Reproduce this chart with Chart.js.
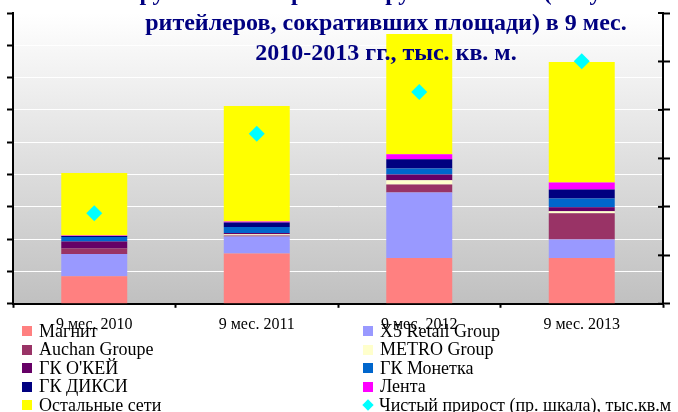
<!DOCTYPE html>
<html lang="ru">
<head>
    <meta charset="UTF-8">
    <title>Крупнейшие торговые группы России</title>
    <script src="https://cdn.jsdelivr.net/npm/chart.js"></script>
    <style>
        html, body { margin: 0; padding: 0; background: #fff; overflow: hidden; }
        #wrap { position: relative; width: 678px; height: 412px; overflow: hidden;
                font-family: "Liberation Serif", "Times New Roman", serif; }
        #chart { position: absolute; left: 0; top: 0; }
        #title { position: absolute; left: 86px; top: -23px; width: 600px; text-align: center;
                 font-weight: bold; font-size: 24px; line-height: 30px; color: #000080; white-space: nowrap; }
        #legend { position: absolute; left: 22px; top: 322px; width: 680px;
                  display: grid; grid-template-columns: 341px auto; grid-auto-rows: 18.5px;
                  font-size: 18px; color: #000; white-space: nowrap; }
        #legend .item { display: flex; align-items: center; }
        #legend .box { width: 10px; height: 10px; margin-right: 7px; flex: none; }
        #legend .diamond { width: 8px; height: 8px; margin: 0 7px 0 1px; transform: rotate(45deg); flex: none; }
    </style>
</head>
<body>
<div id="wrap">
    <canvas id="chart" width="678" height="412"></canvas>
    <div id="title">Крупнейшие торговые группы России (без учета<br>ритейлеров, сокративших площади) в 9 мес.<br>2010-2013 гг., тыс. кв. м.</div>
    <div id="legend"></div>
</div>

<script>
    // данные, тыс. кв. м (левая шкала)
    const categories = ['9 мес. 2010', '9 мес. 2011', '9 мес. 2012', '9 мес. 2013'];
    const magnit  = [171, 312, 284, 284];
    const x5      = [137, 104, 405, 114];
    const auchan  = [35, 6, 50, 163];
    const metro   = [0, 8, 25, 12];
    const okey    = [43, 8, 37, 25];
    const monetka = [27, 37, 37, 54];
    const dixy    = [6, 29, 56, 56];
    const lenta   = [4, 6, 31, 43];
    const others  = [387, 714, 745, 745];
    // чистый прирост (правая шкала)
    const netGrowth = [374, 702, 874, 1001];

    const leftMax = 1800, leftStep = 200;
    const rightMax = 1200, rightStep = 200;

    const serif = "'Liberation Serif', 'Times New Roman', serif";

    function bar(label, data, color) {
        return { label: label, data: data, backgroundColor: color, borderWidth: 0,
                 barPercentage: 0.406, categoryPercentage: 1 };
    }

    // фон области построения: градиент сверху вниз
    const plotBg = {
        id: 'plotBg',
        beforeDraw(chart) {
            const { ctx, chartArea: a } = chart;
            const g = ctx.createLinearGradient(0, a.top, 0, a.bottom);
            g.addColorStop(0, '#ffffff');
            g.addColorStop(1, '#c0c0c0');
            ctx.save();
            ctx.fillStyle = g;
            ctx.fillRect(a.left, a.top, a.right - a.left, a.bottom - a.top);
            ctx.restore();
        }
    };

    // короткие засечки правой оси внутрь области построения
    const innerTicks = {
        id: 'innerTicks',
        afterDraw(chart) {
            const s = chart.scales.y2;
            const ctx = chart.ctx;
            ctx.save();
            ctx.strokeStyle = '#000';
            ctx.lineWidth = 2;
            s.ticks.forEach(t => {
                const y = s.getPixelForValue(t.value);
                ctx.beginPath();
                ctx.moveTo(s.left - 5, y);
                ctx.lineTo(s.left, y);
                ctx.stroke();
            });
            ctx.restore();
        }
    };

    const chart = new Chart(document.getElementById('chart'), {
        type: 'bar',
        data: {
            labels: categories,
            datasets: [
                bar('Магнит', magnit, '#ff8080'),
                bar('X5 Retail Group', x5, '#9999ff'),
                bar('Auchan Groupe', auchan, '#993366'),
                bar('METRO Group', metro, '#ffffcc'),
                bar('ГК О\'КЕЙ', okey, '#660066'),
                bar('ГК Монетка', monetka, '#0066cc'),
                bar('ГК ДИКСИ', dixy, '#000080'),
                bar('Лента', lenta, '#ff00ff'),
                bar('Остальные сети', others, '#ffff00'),
                {
                    type: 'line',
                    label: 'Чистый прирост (пр. шкала), тыс.кв.м',
                    data: netGrowth,
                    yAxisID: 'y2',
                    showLine: false,
                    pointStyle: 'rectRot',
                    pointRadius: 8,
                    pointBackgroundColor: '#00ffff',
                    pointBorderWidth: 0,
                    backgroundColor: '#00ffff',
                    order: -1
                }
            ]
        },
        options: {
            responsive: false,
            animation: false,
            layout: { padding: { left: 7, right: 8, top: 13, bottom: 71 } },
            plugins: { legend: { display: false }, tooltip: { enabled: false } },
            scales: {
                x: {
                    stacked: true,
                    z: 1,
                    grid: { drawOnChartArea: false, tickLength: 4, tickColor: '#000', tickWidth: 2 },
                    border: { color: '#000', width: 2 },
                    ticks: { color: '#000', padding: 7, font: { family: serif, size: 16 } }
                },
                y: {
                    stacked: true,
                    min: 0, max: leftMax,
                    grid: { color: '#ffffff', lineWidth: 1, tickLength: 6, tickColor: '#000', tickWidth: 2 },
                    border: { color: '#000', width: 2 },
                    ticks: { display: false, stepSize: leftStep }
                },
                y2: {
                    position: 'right',
                    z: 1,
                    min: 0, max: rightMax,
                    grid: { drawOnChartArea: false, tickLength: 7, tickColor: '#000', tickWidth: 2 },
                    border: { color: '#000', width: 2 },
                    ticks: { display: false, stepSize: rightStep }
                }
            }
        },
        plugins: [plotBg, innerTicks]
    });

    // легенда в две колонки
    const legend = document.getElementById('legend');
    chart.data.datasets.forEach(ds => {
        const item = document.createElement('div');
        item.className = 'item';
        const mark = document.createElement('span');
        mark.className = ds.type === 'line' ? 'diamond' : 'box';
        mark.style.background = ds.backgroundColor;
        item.appendChild(mark);
        item.appendChild(document.createTextNode(ds.label));
        legend.appendChild(item);
    });
</script>
</body>
</html>
